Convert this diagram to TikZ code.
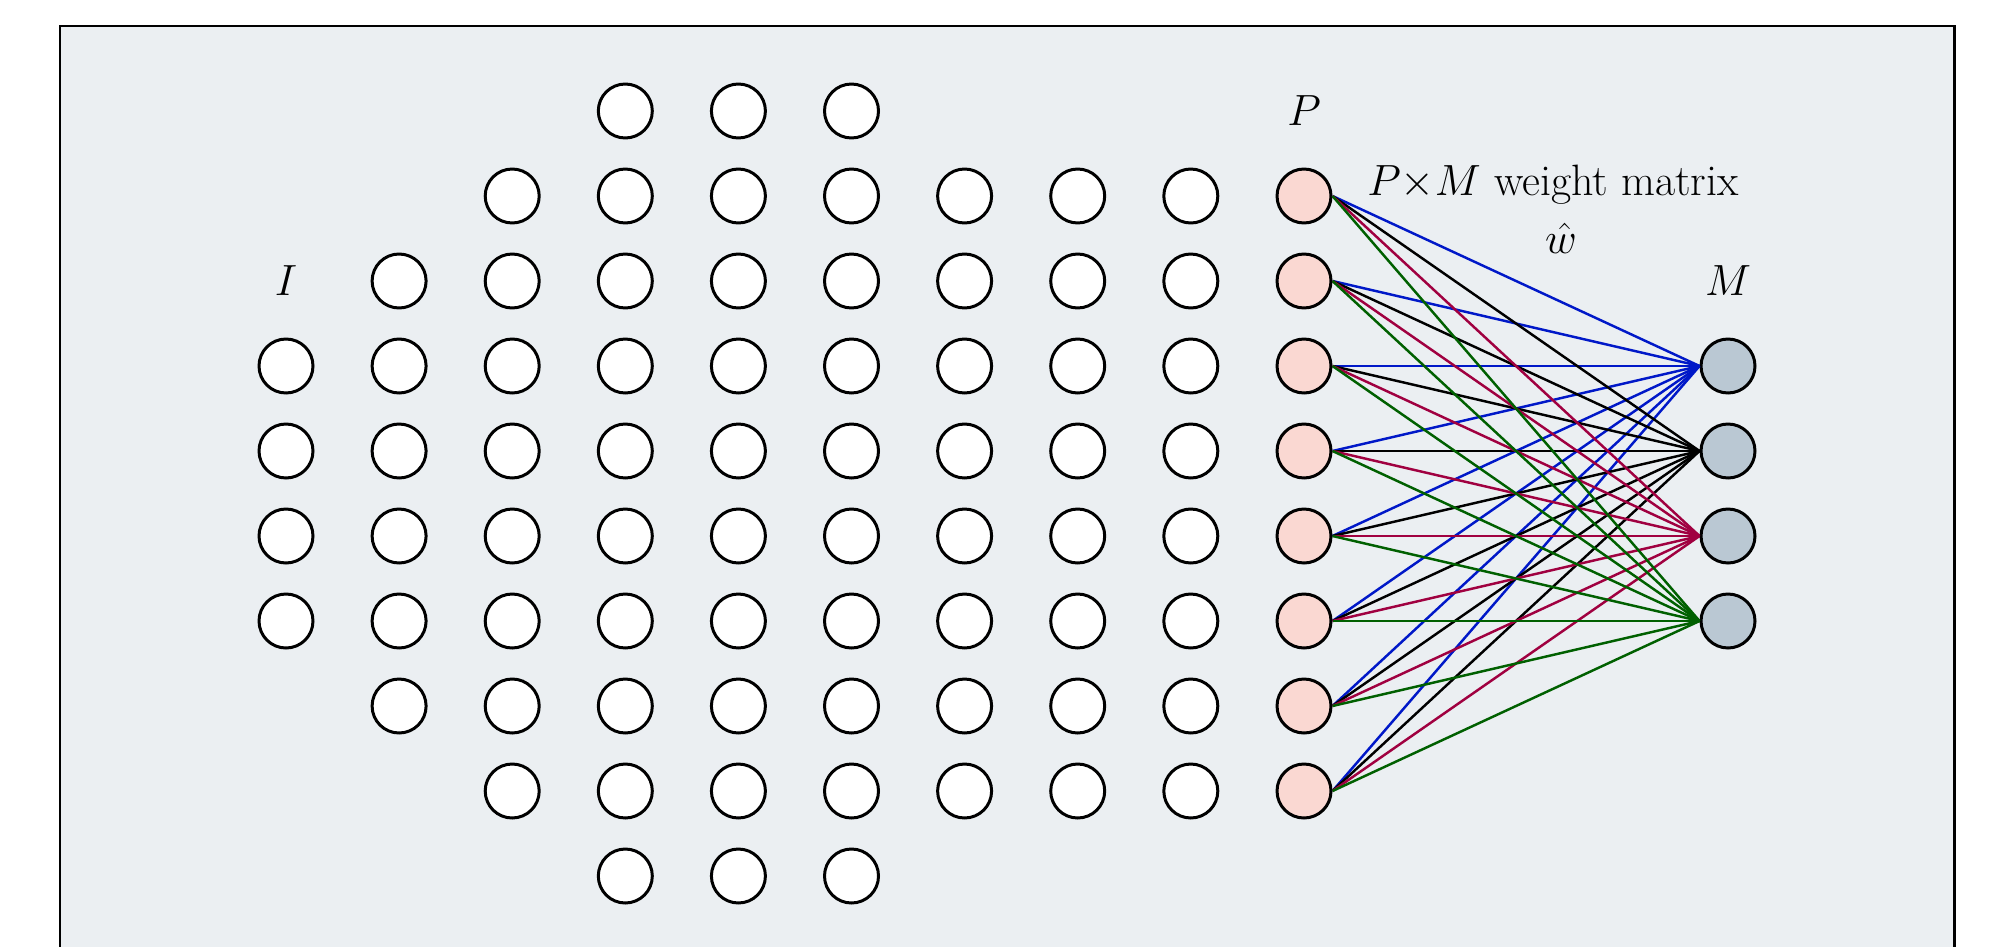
\documentclass[tikz,border=0pt]{standalone}
\definecolor{bgcol}{RGB}{235,239,242}
\definecolor{pinkfill}{RGB}{250,216,210}
\definecolor{mfill}{RGB}{186,200,211}
\definecolor{eblue}{RGB}{0,24,200}
\definecolor{epurple}{RGB}{160,0,64}
\definecolor{egreen}{RGB}{0,96,0}
\begin{document}
\begin{tikzpicture}[x=0.02cm,y=-0.02cm,
  neuron/.style={circle,draw=black,line width=1.7pt,minimum size=1.08cm,inner sep=0pt,fill=white},
  pnode/.style={neuron,fill=pinkfill},
  mnode/.style={neuron,fill=mfill},
  lab/.style={font=\fontsize{25}{33}\selectfont,inner sep=0pt},
  wline/.style={line width=1.4pt}]
\clip (0,0) rectangle (1993,946);
\draw[line width=1.7pt,fill=bgcol] (60,26) rectangle (1954,1000);
\foreach \c/\a/\b in {1/3/6,2/2/7,3/1/8,4/0/9,5/0/9,6/0/9,7/1/8,8/1/8,9/1/8} {
  \foreach \k in {\a,...,\b} {
    \node[neuron] (n-\c-\k) at ({286+113.1*(\c-1)},{111+85*\k}) {};
  }
}
\foreach \k in {1,...,8} {
  \node[pnode] (p\k) at (1304,{111+85*\k}) {};
}
\foreach \j in {1,...,4} {
  \node[mnode] (m\j) at (1728,{111+85*(\j+2)}) {};
}
\foreach \j/\col in {1/eblue,2/black,3/epurple,4/egreen} {
  \foreach \k in {1,...,8} {
    \draw[wline,\col] (p\k.east) -- (m\j.west);
  }
}
\node[lab] (lI) at (286,281) {$I$};
\node[lab] (lP) at (1304,111) {$P$};
\node[lab] (lM) at (1728,281) {$M$};
\node[lab,align=center,anchor=north] (wl) at (1553,165)
  {$P{\times}M$ weight matrix\\\hspace*{0.32cm}{\fontsize{30}{33}\selectfont$\hat{w}$}};
\end{tikzpicture}
\end{document}
